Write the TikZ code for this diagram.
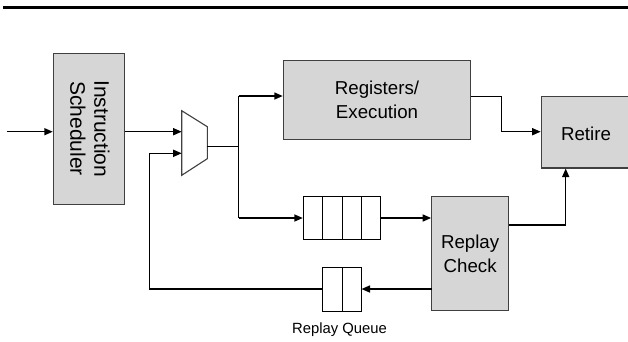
\documentclass[tikz,border=0pt]{standalone}
\usepackage{fontspec}
\setmainfont{Liberation Sans}
\usetikzlibrary{arrows.meta}
\definecolor{boxgrey}{HTML}{D6D6D6}
\definecolor{edgegrey}{HTML}{404040}
\begin{document}
\begin{tikzpicture}[x=1pt,y=-1pt,
  blk/.style={draw=edgegrey,line width=1.1pt,fill=boxgrey,inner sep=0pt,align=center,
    font=\fontsize{18.7}{24.5}\selectfont},
  cellbox/.style={draw=black,line width=1pt,fill=white,inner sep=0pt},
  thin/.style={draw=black,line width=1.1pt},
  arr/.style={draw=black,line width=1.5pt,-{Triangle[length=8.5pt,width=7pt]}},
  ]
\useasboundingbox (0,0) rectangle (628,341);
% top rule
\coordinate (ruleL) at (3,7.5);
\coordinate (ruleR) at (628,7.5);
\draw[line width=2.2pt] (ruleL) -- (ruleR);

% Instruction scheduler
\node[blk,minimum width=70.7pt,minimum height=150.7pt] (sched) at (88.7,128.7) {};
\node[rotate=-90,align=center,font=\fontsize{21}{24}\selectfont,inner sep=0pt] (schedtxt) at (90,128.7) {Instruction\\Scheduler};

% Registers / Execution
\node[blk,minimum width=187.4pt,minimum height=78.6pt] (reg) at (377,100) {Registers/\\Execution};

% Retire (right side cropped)
\node[blk,minimum width=89pt,minimum height=71.3pt,anchor=west] (ret) at (540.7,132.35) {};
\node[font=\fontsize{18.7}{24}\selectfont,inner sep=0pt] (rettxt) at (586,133.5) {Retire};

% Replay check
\node[blk,minimum width=76.8pt,minimum height=114.2pt] (rc) at (470.1,253.6) {Replay\\Check};

% four-cell queue
\node[cellbox,minimum width=76.7pt,minimum height=42.6pt] (q4) at (341.65,218) {};
\coordinate (q4a) at (322.7,196.7); \coordinate (q4b) at (342.3,196.7); \coordinate (q4c) at (361.7,196.7);
\draw[line width=1pt] (q4a) -- (q4a |- q4.south) (q4b) -- (q4b |- q4.south) (q4c) -- (q4c |- q4.south);

% replay queue (two cells)
\node[cellbox,minimum width=38.3pt,minimum height=43.3pt] (rq) at (341.85,289.35) {};
\coordinate (rqd) at (342,267.7);
\draw[line width=1pt] (rqd) -- (rqd |- rq.south);
\node[font=\fontsize{14.8}{16}\selectfont,inner sep=0pt] (rqlabel) at (339.5,330) {Replay Queue};

% multiplexer
\coordinate (m1) at (181.7,110.7);
\coordinate (m2) at (207.3,126.7);
\coordinate (m3) at (207.3,158.7);
\coordinate (m4) at (181.7,175.3);
\draw[draw=edgegrey,line width=1.1pt,fill=white] (m1) -- (m2) -- (m3) -- (m4) -- cycle;
\coordinate (muxin1) at (181.7,131.7);
\coordinate (muxin2) at (181.7,153.3);
\coordinate (muxout) at (207.3,146.5);

% input
\coordinate (in) at (7,131.7);
\draw[arr] (in) -- (in -| sched.west);
% scheduler -> mux
\draw[arr] (muxin1 -| sched.east) -- (muxin1);

% mux -> split
\coordinate (split) at (238.7,146.5);
\coordinate (splitTop) at (238.7,96);
\coordinate (splitBot) at (238.7,218);
\draw[thin] (muxout) -- (split);
\draw[thin] (splitTop) -- (splitBot);
\draw[arr] (splitTop) -- (splitTop -| reg.west);
\draw[arr] (splitBot) -- (splitBot -| q4.west);

% registers -> retire
\coordinate (rr1) at (501.7,96.7);
\coordinate (rr2) at (501.7,131.7);
\draw[thin] (rr1 -| reg.east) -- (rr1) -- (rr2);
\draw[arr] (rr2) -- (rr2 -| ret.west);

% queue -> replay check
\draw[arr] (q4.east) -- (q4.east -| rc.west);

% replay check -> retire
\coordinate (rc1) at (565.7,225);
\draw[thin] (rc1 -| rc.east) -- (rc1);
\draw[arr] (rc1) -- (rc1 |- ret.south);

% replay check -> replay queue
\coordinate (rcq) at (431.7,289);
\draw[arr] (rcq) -- (rcq -| rq.east);

% replay queue -> mux
\coordinate (fb1) at (149.3,289);
\coordinate (fb2) at (149.3,153.3);
\draw[thin] (rcq -| rq.west) -- (fb1) -- (fb2);
\draw[arr] (fb2) -- (muxin2);
\end{tikzpicture}
\end{document}
